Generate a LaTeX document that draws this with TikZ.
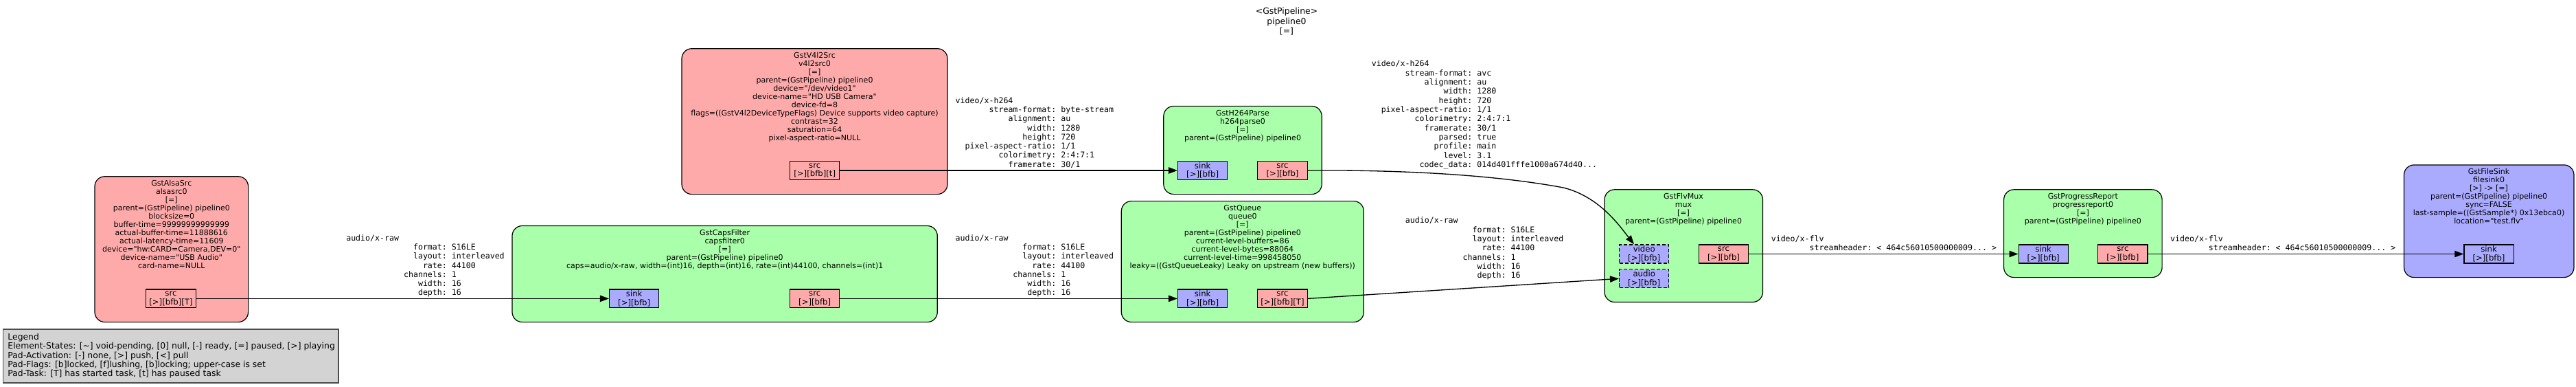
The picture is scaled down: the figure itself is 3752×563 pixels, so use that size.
\documentclass[tikz,border=0pt]{standalone}
\usepackage{fontspec}
\setmainfont{DejaVu Sans}
\newfontfamily\gsans{DejaVu Sans}
\newfontfamily\monof{DejaVu Sans Mono}
\usetikzlibrary{arrows.meta,fit}
\definecolor{gred}{HTML}{FFAAAA}
\definecolor{ggreen}{HTML}{AAFFAA}
\definecolor{gblue}{HTML}{AAAAFF}
\definecolor{glegend}{HTML}{D3D3D3}
\newcommand\cfield[2]{\makebox[\dimexpr20\fontcharwd\font`0\relax][r]{#1}: #2}
\tikzset{
  clbox/.style={draw=black, line width=0.9pt, rounded corners=11pt, inner sep=0pt},
  clabel/.style={anchor=north, align=center, inner sep=0pt,
    font=\gsans\fontsize{8.27}{9.02}\selectfont,
    execute at begin node={\rule{0pt}{0.8em}}},
  padbox/.style={draw=black, line width=0.9pt, minimum width=54.2pt, minimum height=20.2pt,
    inner sep=0pt, align=center, font=\gsans\fontsize{8.77}{9.45}\selectfont},
  srcpad/.style={padbox, fill=gred},
  sinkpad/.style={padbox, fill=gblue},
  reqpad/.style={padbox, fill=gblue, dash pattern=on 4pt off 2pt},
  elabel/.style={anchor=north west, align=left, inner sep=0pt,
    font=\monof\fontsize{8.7}{9.98}\selectfont\frenchspacing,
    execute at begin node={\rule{0pt}{0.8em}}},
  conn/.style={line width=1pt, draw=black, -{Triangle[length=9.75pt,width=7pt]}},
  ttlstyle/.style={anchor=north, align=center, inner sep=0pt,
    font=\gsans\fontsize{9.3}{11.2}\selectfont,
    execute at begin node={\rule{0pt}{0.8em}}}
}
\begin{document}
\begin{tikzpicture}[x=0.75pt,y=-0.75pt]
\fill[white] (0,0) rectangle (3752,563);
\useasboundingbox (0,0) rectangle (3752,563);

% title
\node[ttlstyle] (ttl) at (1874,10.4) {<GstPipeline>\\pipeline0\\{}[=]};

% legend
\node[draw=black!70, fill=glegend, line width=1pt, inner sep=0pt, fit={(4.8,479) (493,557)}] (legendbox) {};
\node[anchor=north west, align=left, inner sep=0pt, font=\gsans\fontsize{9.28}{9.83}\selectfont] (legendtxt) at (11.2,484.7)
 {\rule{0pt}{0.8em}Legend\\Element-States: [\textasciitilde] void-pending, [0] null, [-] ready, [=] paused, [>] playing\\Pad-Activation: [-] none, [>] push, [<] pull\\Pad-Flags: [b]locked, [f]lushing, [b]locking; upper-case is set\\Pad-Task: [T] has started task, [t] has paused task};

% alsasrc
\node[clbox, fill=gred, fit={(138,256.7) (361.6,468.6)}] (alsasrc) {};
\node[clabel] (alsasrcl) at (249.8,261.6) {GstAlsaSrc\\alsasrc0\\{}[=]\\parent=(GstPipeline) pipeline0\\blocksize=0\\buffer-time=99999999999999\\actual-buffer-time=11888616\\actual-latency-time=11609\\device="hw:CARD=Camera,DEV=0"\\device-name="USB Audio"\\card-name=NULL};
\node[srcpad] (alsasrcsrc) at (249,434.4) {src\\{}[>][bfb][T]};

% v4l2src
\node[clbox, fill=gred, fit={(993,70.7) (1380,282.6)}] (v4l2src) {};
\node[clabel] (v4l2srcl) at (1186.5,75.8) {GstV4l2Src\\v4l2src0\\{}[=]\\parent=(GstPipeline) pipeline0\\device="/dev/video1"\\device-name="HD USB Camera"\\device-fd=8\\flags=((GstV4l2DeviceTypeFlags) Device supports video capture)\\contrast=32\\saturation=64\\pixel-aspect-ratio=NULL};
\node[srcpad] (v4l2srcsrc) at (1186.7,248) {src\\{}[>][bfb][t]};

% capsfilter
\node[clbox, fill=ggreen, fit={(746,328.5) (1365.3,468.6)}] (caps) {};
\node[clabel] (capsl) at (1055.7,333.8) {GstCapsFilter\\capsfilter0\\{}[=]\\parent=(GstPipeline) pipeline0\\caps=audio/x-raw, width=(int)16, depth=(int)16, rate=(int)44100, channels=(int)1};
\node[sinkpad] (capssink) at (923.7,434.4) {sink\\{}[>][bfb]};
\node[srcpad] (capssrc) at (1186.7,434.4) {src\\{}[>][bfb]};

% h264parse
\node[clbox, fill=ggreen, fit={(1694.8,154.4) (1925.2,282.6)}] (parse) {};
\node[clabel] (parsel) at (1810,160) {GstH264Parse\\h264parse0\\{}[=]\\parent=(GstPipeline) pipeline0};
\node[sinkpad] (parsesink) at (1751.7,248) {sink\\{}[>][bfb]};
\node[srcpad] (parsesrc) at (1868,248) {src\\{}[>][bfb]};

% queue
\node[clbox, fill=ggreen, fit={(1633.3,292.6) (1986.3,468.6)}] (queue) {};
\node[clabel] (queuel) at (1809.8,298.2) {GstQueue\\queue0\\{}[=]\\parent=(GstPipeline) pipeline0\\current-level-buffers=86\\current-level-bytes=88064\\current-level-time=998458050\\leaky=((GstQueueLeaky) Leaky on upstream (new buffers))};
\node[sinkpad] (queuesink) at (1751.7,434.4) {sink\\{}[>][bfb]};
\node[srcpad] (queuesrc) at (1868,434.4) {src\\{}[>][bfb][T]};

% mux
\node[clbox, fill=ggreen, fit={(2337,275.8) (2567.5,439.5)}] (mux) {};
\node[clabel] (muxl) at (2452,281) {GstFlvMux\\mux\\{}[=]\\parent=(GstPipeline) pipeline0};
\node[reqpad] (muxvideo) at (2394.7,369.5) {video\\{}[>][bfb]};
\node[reqpad] (muxaudio) at (2394.7,405.3) {audio\\{}[>][bfb]};
\node[srcpad] (muxsrc) at (2510.5,369.5) {src\\{}[>][bfb]};

% progressreport
\node[clbox, fill=ggreen, fit={(2918.6,275.8) (3149.1,403.6)}] (prog) {};
\node[clabel] (progl) at (3033.9,281) {GstProgressReport\\progressreport0\\{}[=]\\parent=(GstPipeline) pipeline0};
\node[sinkpad] (progsink) at (2976.2,369.5) {sink\\{}[>][bfb]};
\node[srcpad] (progsrc) at (3091.9,369.5) {src\\{}[>][bfb]};

% filesink
\node[clbox, fill=gblue, fit={(3501.5,239.9) (3749,403.6)}] (fsink) {};
\node[clabel] (fsinkl) at (3625,245.1) {GstFileSink\\filesink0\\{}[>] -> [=]\\parent=(GstPipeline) pipeline0\\sync=FALSE\\last-sample=((GstSample*) 0x13ebca0)\\location="test.flv"};
\node[sinkpad] (fsinksink) at (3625,369.5) {sink\\{}[>][bfb]};

% connectors
\draw[conn] (alsasrcsrc.east) -- (capssink.west);
\draw[conn] (v4l2srcsrc.east) -- (parsesink.west);
\draw[conn] (capssrc.east) -- (queuesink.west);
\draw[conn] (parsesrc.east) .. controls (2050,247) and (2180,255) .. (2277,273)
  .. controls (2330,286) and (2360,330) .. ([xshift=16.5pt]muxvideo.north west);
\draw[conn] (queuesrc.east) -- (muxaudio.west);
\draw[conn] (muxsrc.east) -- (progsink.west);
\draw[conn] (progsrc.east) -- (fsinksink.west);

% edge labels
\node[elabel] (l1) at (504,341) {audio/x-raw\\\cfield{format}{S16LE}\\\cfield{layout}{interleaved}\\\cfield{rate}{44100}\\\cfield{channels}{1}\\\cfield{width}{16}\\\cfield{depth}{16}};
\node[elabel] (l2) at (1391.4,141) {video/x-h264\\\cfield{stream-format}{byte-stream}\\\cfield{alignment}{au}\\\cfield{width}{1280}\\\cfield{height}{720}\\\cfield{pixel-aspect-ratio}{1/1}\\\cfield{colorimetry}{2:4:7:1}\\\cfield{framerate}{30/1}};
\node[elabel] (l3) at (1391.4,341) {audio/x-raw\\\cfield{format}{S16LE}\\\cfield{layout}{interleaved}\\\cfield{rate}{44100}\\\cfield{channels}{1}\\\cfield{width}{16}\\\cfield{depth}{16}};
\node[elabel] (l4) at (1997.5,87.9) {video/x-h264\\\cfield{stream-format}{avc}\\\cfield{alignment}{au}\\\cfield{width}{1280}\\\cfield{height}{720}\\\cfield{pixel-aspect-ratio}{1/1}\\\cfield{colorimetry}{2:4:7:1}\\\cfield{framerate}{30/1}\\\cfield{parsed}{true}\\\cfield{profile}{main}\\\cfield{level}{3.1}\\\cfield{codec\_data}{014d401fffe1000a674d40...}};
\node[elabel] (l5) at (2046.6,315.9) {audio/x-raw\\\cfield{format}{S16LE}\\\cfield{layout}{interleaved}\\\cfield{rate}{44100}\\\cfield{channels}{1}\\\cfield{width}{16}\\\cfield{depth}{16}};
\node[elabel] (l6) at (2579.5,342.1) {video/x-flv\\\cfield{streamheader}{< 464c56010500000009... >}};
\node[elabel] (l7) at (3160.8,342.1) {video/x-flv\\\cfield{streamheader}{< 464c56010500000009... >}};
\end{tikzpicture}
\end{document}
